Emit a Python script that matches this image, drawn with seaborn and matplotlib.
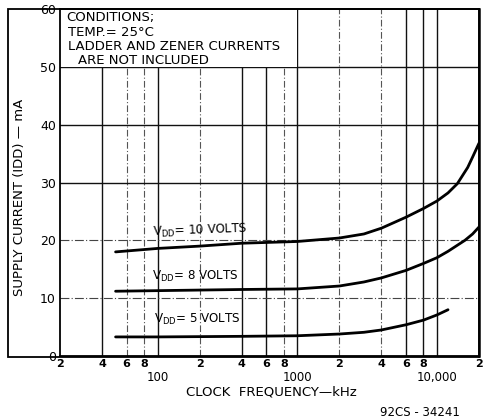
import numpy as np
import pandas as pd
import matplotlib
matplotlib.use("Agg")
import matplotlib.pyplot as plt
from matplotlib.patches import Rectangle
from matplotlib.ticker import FixedLocator, FixedFormatter
import seaborn as sns

# ---- data ----
freq_10v = [50, 100, 200, 400, 1000, 2000, 3000, 4000, 6000, 8000, 10000, 12000, 14000, 16600, 18000, 20000]
idd_10v = [18.0, 18.6, 19.0, 19.5, 19.8, 20.4, 21.1, 22.1, 24.0, 25.5, 26.8, 28.2, 29.8, 32.6, 34.4, 36.8]
freq_8v = [50, 100, 200, 400, 1000, 2000, 3000, 4000, 6000, 8000, 10000, 12000, 15850, 18000, 20000]
idd_8v = [11.2, 11.3, 11.4, 11.5, 11.6, 12.1, 12.8, 13.5, 14.8, 16.0, 17.0, 18.1, 20.0, 21.1, 22.3]
freq_5v = [50, 100, 200, 400, 1000, 2000, 3000, 4000, 6000, 8000, 10000, 12000]
idd_5v = [3.3, 3.3, 3.35, 3.4, 3.5, 3.8, 4.1, 4.5, 5.4, 6.2, 7.1, 8.0]

series_names = ["VDD=10", "VDD=8", "VDD=5"]
yticks = [0, 10, 20, 30, 40, 50, 60]
major_x = [100, 1000, 10000]
major_x_labels = ["100", "1000", "10,000"]
minor_x = [20, 40, 60, 80, 200, 400, 600, 800, 2000, 4000, 6000, 8000, 20000]
minor_x_labels = ["2", "4", "6", "8", "2", "4", "6", "8", "2", "4", "6", "8", "2"]
conditions = ["CONDITIONS;", "TEMP.= 25°C", "LADDER AND ZENER CURRENTS", "ARE NOT INCLUDED"]

df = pd.concat([
    pd.DataFrame({"f": freq_10v, "i": idd_10v, "s": series_names[0]}),
    pd.DataFrame({"f": freq_8v, "i": idd_8v, "s": series_names[1]}),
    pd.DataFrame({"f": freq_5v, "i": idd_5v, "s": series_names[2]}),
])

sns.set_style("white")
plt.rcParams["font.family"] = ["DejaVu Sans"]
plt.rcParams["text.color"] = "black"
plt.rcParams["xtick.color"] = "black"
plt.rcParams["ytick.color"] = "black"
plt.rcParams["xtick.labelcolor"] = "black"
plt.rcParams["ytick.labelcolor"] = "black"

W, H = 483, 420
fig = plt.figure(figsize=(W / 100, H / 100), dpi=100)
ax = fig.add_axes([60 / W, 1 - 356 / H, 419 / W, 347 / H])
ax.set_xscale("log")
ax.set_xlim(20, 20000)
ax.set_ylim(0, 60)

# grid
solid_v = [40, 100, 400, 600, 1000, 6000, 8000, 10000]
for x in minor_x + major_x:
    if x in (20, 20000):
        continue
    if x in solid_v:
        ax.axvline(x, color="#111111", lw=1.0, zorder=1)
    else:
        ax.axvline(x, color="#555555", lw=0.8, ls=(0, (6, 2, 1, 2)), zorder=1)
for y in yticks[1:-1]:
    if y in (10, 20):
        ax.axhline(y, color="#444444", lw=0.8, ls=(0, (8, 2, 1, 2)), zorder=1)
    else:
        ax.axhline(y, color="#111111", lw=1.0, zorder=1)

# white conditions box covering grid
ax.add_patch(Rectangle((20, 50), 1000 - 20, 10, facecolor="white", edgecolor="none", zorder=2))
cond_x_px = [6, 8, 8, 18]
for k, line in enumerate(conditions):
    ax.text(cond_x_px[k] / 419, 1 - (9 + 14.3 * k) / 347, line, transform=ax.transAxes,
            fontsize=9.5, va="center", ha="left", zorder=3)

sns.lineplot(data=df, x="f", y="i", hue="s", palette=["black"] * 3, lw=2.0,
             legend=False, ax=ax, zorder=4, sort=True, estimator=None)

ax.text(92, 21.6, r"V$_{\mathrm{DD}}$= 10 VOLTS", fontsize=8.6, va="center", ha="left",
        rotation=2, zorder=5)
ax.text(91, 13.7, r"V$_{\mathrm{DD}}$= 8 VOLTS", fontsize=8.6, va="center", ha="left", zorder=5)
ax.text(94, 6.3, r"V$_{\mathrm{DD}}$= 5 VOLTS", fontsize=8.6, va="center", ha="left", zorder=5)

# ticks
ax.set_yticks(yticks)
ax.set_yticklabels([str(v) for v in yticks], fontsize=9)
ax.tick_params(axis="y", length=0, pad=3)
ax.xaxis.set_major_locator(FixedLocator(major_x))
ax.xaxis.set_major_formatter(FixedFormatter(major_x_labels))
ax.xaxis.set_minor_locator(FixedLocator(minor_x))
ax.xaxis.set_minor_formatter(FixedFormatter(minor_x_labels))
ax.tick_params(axis="x", which="major", length=9, width=1.2, pad=2, labelsize=8.5,
               direction="out", color="black")
ax.tick_params(axis="x", which="minor", length=0, pad=2, labelsize=8)
for lbl in ax.xaxis.get_minorticklabels():
    lbl.set_fontweight("bold")
ax.set_xlabel("")
ax.set_ylabel("")
for s in ax.spines.values():
    s.set_color("black")
    s.set_linewidth(1.3)
ax.spines["right"].set_linewidth(1.8)

# outer frame
fig.patches.append(Rectangle((8 / W, 1 - 357 / H), 471 / W, 348 / H, transform=fig.transFigure,
                             fill=False, edgecolor="black", lw=1.3, zorder=0))

fig.text(20 / W, 1 - 197 / H, "SUPPLY CURRENT (IDD) — mA", rotation=90, fontsize=9.5,
         ha="center", va="center")
fig.text(271 / W, 1 - 392 / H, "CLOCK  FREQUENCY—kHz", fontsize=9.5, ha="center", va="center")
fig.text(420 / W, 1 - 412 / H, "92CS - 34241", fontsize=8.5, ha="center", va="center")

fig.savefig("out.png", dpi=100)
